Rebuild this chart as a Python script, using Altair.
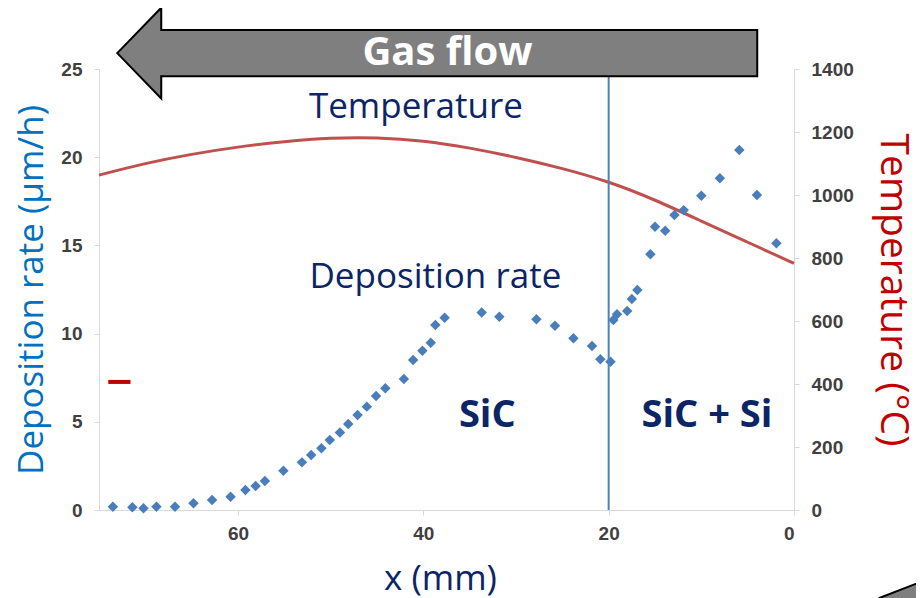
import altair as alt
import pandas as pd

# ---- data ----
dep_x = [73.5, 71.4, 70.2, 68.8, 66.8, 64.8, 62.8, 60.8, 59.2, 58.1, 57.1, 55.1,
         53.1, 52.1, 51.0, 50.1, 49.0, 48.1, 47.1, 46.1, 45.1, 44.1, 42.1, 41.1,
         40.1, 39.2, 38.7, 37.7, 33.7, 31.8, 27.8, 25.8, 23.8, 21.8, 20.9, 19.8,
         19.5, 19.1, 18.0, 17.5, 16.9, 15.5, 15.0, 13.9, 12.9, 11.9, 10.0, 8.0,
         5.9, 4.0, 1.9]
dep_rate = [0.19, 0.15, 0.10, 0.19, 0.19, 0.38, 0.57, 0.75, 1.13, 1.36, 1.64, 2.23,
            2.70, 3.12, 3.50, 3.97, 4.40, 4.88, 5.39, 5.86, 6.46, 6.90, 7.43, 8.50,
            9.03, 9.48, 10.49, 10.90, 11.19, 10.96, 10.81, 10.45, 9.73, 9.30, 8.54, 8.41,
            10.77, 11.10, 11.28, 11.96, 12.47, 14.50, 16.06, 15.83, 16.72, 17.00, 17.82, 18.80,
            20.41, 17.86, 15.12]

temp_x = [75, 70, 65, 60, 55, 50, 45, 40, 35, 30, 25, 20, 15, 10, 5, 0]
temp_c = [1063, 1101, 1130, 1153, 1170, 1182, 1183, 1173, 1150, 1120, 1085, 1043, 985, 917, 850, 783]

ticks_x = [60, 40, 20, 0]
ticks_dep = [0, 5, 10, 15, 20, 25]
ticks_temp = [0, 200, 400, 600, 800, 1000, 1200, 1400]

boundary_x = [20]

note_text = ["Temperature", "Deposition rate"]
note_x = [40.8, 38.7]
note_y = [22.2, 12.6]

phase_text = ["SiC", "SiC + Si"]
phase_x = [33.1, 9.4]
phase_y = [4.7, 4.7]

flow_text = ["Gas flow"]
flow_x = [38.5]
flow_y = [25.9]
flow_label_x = [37.4]
flow_label_y = [25.25]

dash_x = [74.0]
dash_x2 = [71.6]
dash_y = [7.26]

corner_x = [-11.7]
corner_y = [-4.48]

# ---- styles ----
W, H = 695, 441
NAVY = "#0B2566"
AX_GRAY = "#D9D9D9"
LABEL_COL = "#404040"
FONT = "Open Sans"
ARROW_PATH = "M -1 0 L -0.8625 -0.142 L -0.8625 -0.072 L 1 -0.072 L 1 0.072 L -0.8625 0.072 L -0.8625 0.142 Z"
CORNER_PATH = "M -1 0.39 L 1 -0.39 L 1 0.6 L -1 0.6 Z"

xs = alt.Scale(domain=[75, 0], nice=False, zero=False)
ys_dep = alt.Scale(domain=[0, 25], nice=False, zero=False)
ys_temp = alt.Scale(domain=[0, 1400], nice=False, zero=False)

common_axis = dict(
    domainColor=AX_GRAY, tickColor=AX_GRAY, tickSize=5, grid=False,
    labelFont="Liberation Sans", labelFontWeight="bold", labelFontSize=19,
    labelColor=LABEL_COL, format="d",
)

x_enc = alt.X("x:Q", scale=xs, axis=alt.Axis(
    values=ticks_x, title="x (mm)", labelPadding=9,
    titleFont=FONT, titleFontSize=35, titleFontWeight="normal", titleColor=NAVY,
    titleX=341, titleY=68, titleAlign="center", titleBaseline="middle",
    **common_axis))

dep_df = pd.DataFrame({"x": dep_x, "y": dep_rate})
temp_df = pd.DataFrame({"x": temp_x, "y": temp_c})

temp_line = alt.Chart(temp_df).mark_line(
    color="#C0504D", strokeWidth=3, interpolate="basis"
).encode(
    x=x_enc,
    y=alt.Y("y:Q", scale=ys_temp, axis=alt.Axis(
        orient="right", values=ticks_temp, title="Temperature (°C)", labelPadding=12,
        titleFont=FONT, titleFontSize=39, titleFontWeight="normal", titleColor="#C00000",
        titleX=98, titleY=220.5, titleAngle=90, titleAlign="center", titleBaseline="middle",
        **common_axis)),
)

dep_points = alt.Chart(dep_df).mark_point(
    shape="diamond", filled=True, size=110, color="#4A7EBB", opacity=1
).encode(
    x=x_enc,
    y=alt.Y("y:Q", scale=ys_dep, axis=alt.Axis(
        orient="left", values=ticks_dep, title="Deposition rate (μm/h)", labelPadding=12,
        titleFont=FONT, titleFontSize=35, titleFontWeight="normal", titleColor="#0070C0",
        titleX=-68, titleY=220.5, titleAngle=270, titleAlign="center", titleBaseline="middle",
        **common_axis)),
)

rule = alt.Chart(pd.DataFrame({"x": boundary_x, "y0": [0], "y1": [25]})).mark_rule(
    color="#4F81BD", strokeWidth=2
).encode(
    x=x_enc,
    y=alt.Y("y0:Q", scale=ys_dep, axis=None),
    y2="y1:Q",
)

dash = alt.Chart(pd.DataFrame({"x": dash_x, "x2": dash_x2, "y": dash_y})).mark_rule(
    color="#C00000", strokeWidth=4
).encode(
    x=x_enc, x2="x2:Q",
    y=alt.Y("y:Q", scale=ys_dep, axis=None),
)

notes = alt.Chart(pd.DataFrame({"x": note_x, "y": note_y, "t": note_text})).mark_text(
    font=FONT, fontSize=35, color=NAVY, align="center", baseline="alphabetic"
).encode(
    x=x_enc, y=alt.Y("y:Q", scale=ys_dep, axis=None), text="t:N",
)

phases = alt.Chart(pd.DataFrame({"x": phase_x, "y": phase_y, "t": phase_text})).mark_text(
    font=FONT, fontSize=38, fontWeight="bold", color=NAVY, align="center", baseline="alphabetic"
).encode(
    x=x_enc, y=alt.Y("y:Q", scale=ys_dep, axis=None), text="t:N",
)

arrow = alt.Chart(pd.DataFrame({"x": flow_x, "y": flow_y})).mark_point(
    shape=ARROW_PATH, size=640 * 640, filled=True, fill="#7F7F7F",
    stroke="#000000", strokeWidth=2, opacity=1
).encode(
    x=x_enc, y=alt.Y("y:Q", scale=ys_dep, axis=None),
)

arrow_label = alt.Chart(pd.DataFrame({"x": flow_label_x, "y": flow_label_y, "t": flow_text})).mark_text(
    font=FONT, fontSize=40, fontWeight="bold", color="white", align="center", baseline="alphabetic"
).encode(
    x=x_enc, y=alt.Y("y:Q", scale=ys_dep, axis=None), text="t:N",
)

corner = alt.Chart(pd.DataFrame({"x": corner_x, "y": corner_y})).mark_point(
    shape=CORNER_PATH, size=46 * 46, filled=True, fill="#7F7F7F",
    stroke="#000000", strokeWidth=2, opacity=1
).encode(
    x=x_enc, y=alt.Y("y:Q", scale=ys_dep, axis=None),
)

chart = alt.layer(
    temp_line, dep_points, rule, dash, notes, phases, arrow, arrow_label, corner
).resolve_scale(y="independent").properties(
    width=W, height=H,
    autosize=alt.AutoSizeParams(type="none"),
    padding={"left": 91, "top": 61, "right": 122, "bottom": 88},
    background="white",
).configure_view(stroke=None)

chart.save("out.html", embed_options={"renderer": "svg", "actions": False})
